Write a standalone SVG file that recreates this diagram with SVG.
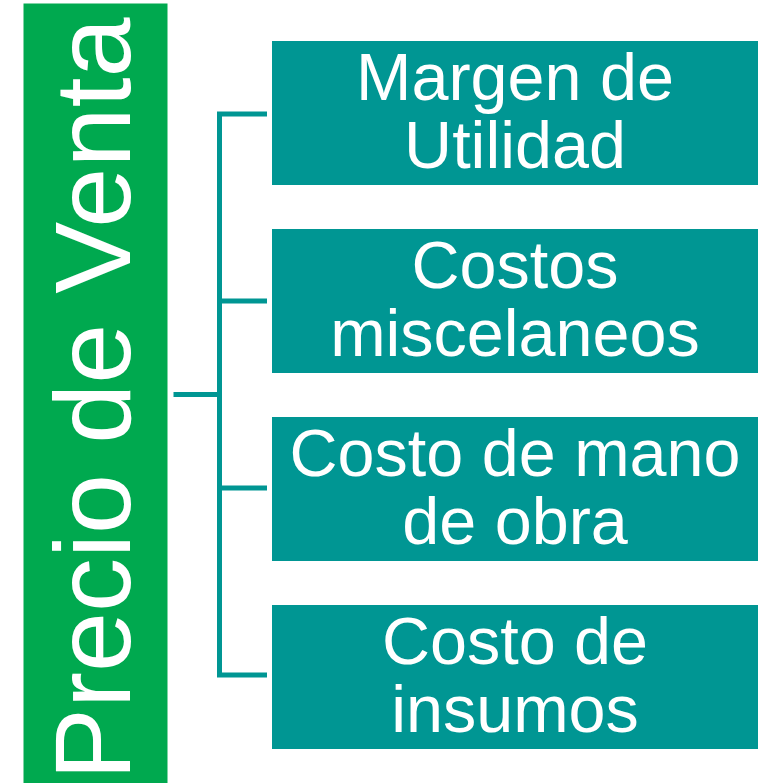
<svg xmlns="http://www.w3.org/2000/svg" width="770" height="783" viewBox="0 0 770 783">
<style>
.box{fill:#009693;}
.t{font-family:"Liberation Sans",Arial,sans-serif;font-size:66.5px;fill:#fff;text-anchor:middle;}
.c{fill:none;stroke:#009693;stroke-width:5;stroke-linecap:square;}
</style>
<rect width="770" height="783" fill="#fff"/>
<g id="root">
<rect x="23.5" y="3.5" width="144" height="780" fill="#00A94F"/>
<text transform="translate(130,780) rotate(-90)" x="0" y="0" style="font-family:'Liberation Sans',Arial,sans-serif;font-size:108px;fill:#fff;">Precio de Venta</text>
</g>
<g id="connectors">
<path class="c" d="M176,394.5 H219.5 M219.5,114 V675 H264.5 M219.5,114 H264.5 M219.5,301 H264.5 M219.5,488 H264.5"/>
</g>
<g id="n1">
<rect class="box" x="272" y="41" width="486" height="144"/>
<text class="t" x="515" y="100">Margen de</text>
<text class="t" x="515" y="168">Utilidad</text>
</g>
<g id="n2">
<rect class="box" x="272" y="229" width="486" height="144"/>
<text class="t" x="515" y="288">Costos</text>
<text class="t" x="515" y="356">miscelaneos</text>
</g>
<g id="n3">
<rect class="box" x="272" y="417" width="486" height="144"/>
<text class="t" x="515" y="476">Costo de mano</text>
<text class="t" x="515" y="544">de obra</text>
</g>
<g id="n4">
<rect class="box" x="272" y="605" width="486" height="144"/>
<text class="t" x="515" y="664">Costo de</text>
<text class="t" x="515" y="732">insumos</text>
</g>
</svg>
